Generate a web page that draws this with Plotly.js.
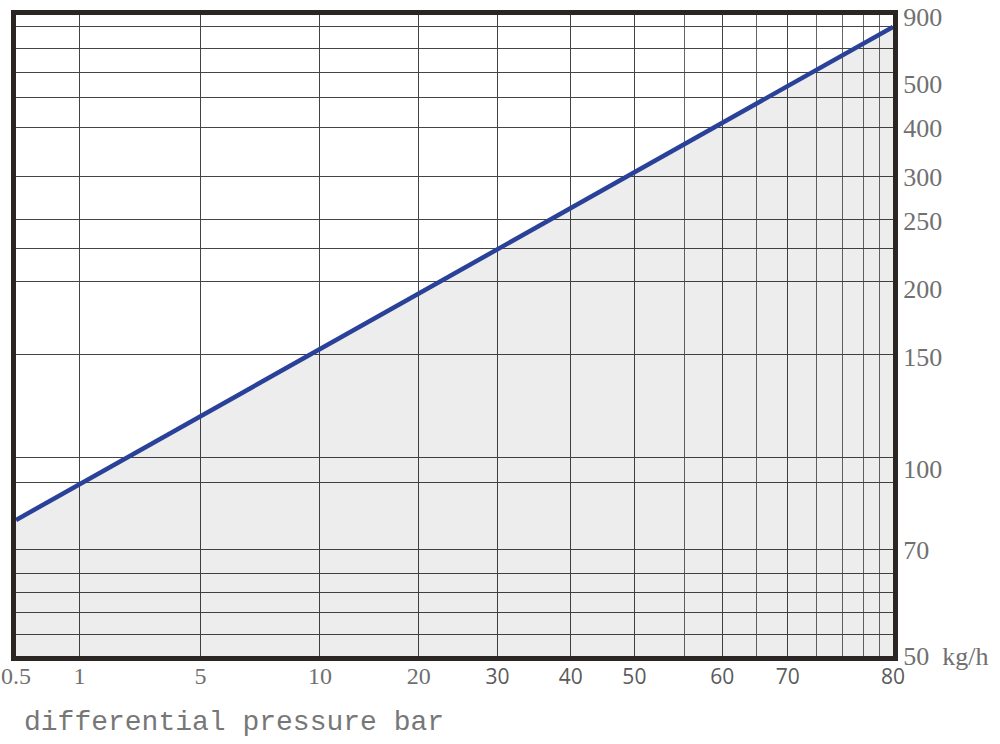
<!DOCTYPE html>
<html><head><meta charset="utf-8">
<script src="https://cdn.plot.ly/plotly-3.0.1.min.js"></script>
<style>html,body{margin:0;padding:0;background:#fff}#chart{width:1000px;height:744px}</style>
</head><body><div id="chart"></div>
<script>
// ---- data ----
const pressureTicks = [0.5, 1, 5, 10, 20, 30, 40, 50, 60, 70, 80];
const pressureLabels = ['0.5', '1', '5', '10', '20', '30', '40', '50', '60', '70', '80'];
const flowTicks = [50, 70, 100, 150, 200, 250, 300, 400, 500, 900];
const flowLabels = ['50\u00a0\u00a0kg/h', '70', '100', '150', '200', '250', '300', '400', '500', '900'];
const linePressure = [0.5, 80];
const lineFlow = [81, 840];

// ---- custom (non-uniform) scale of the printed chart: tick position fractions ----
const xTickPos = [0, 0.0724, 0.2103, 0.3466, 0.4592, 0.5491, 0.6326, 0.7051, 0.8052, 0.8800, 1];
const yTickPos = [0, 0.1658, 0.2922, 0.4669, 0.5729, 0.6794, 0.7477, 0.8233, 0.8919, 0.9973];
const xGridExtra = [0.7625, 0.8444, 0.9127, 0.9424, 0.9664, 0.9845];
const yGrid = [0.0343, 0.0686, 0.0988, 0.1284, 0.1669, 0.2704, 0.3094, 0.4707, 0.5839, 0.6360,
               0.6813, 0.7488, 0.8242, 0.8710, 0.9100, 0.9480, 0.9828];

function interp(v, vals, pos) {
  for (let i = 0; i < vals.length - 1; i++) {
    if (v <= vals[i + 1] || i === vals.length - 2) {
      const t = (v - vals[i]) / (vals[i + 1] - vals[i]);
      return pos[i] + t * (pos[i + 1] - pos[i]);
    }
  }
}
const mapX = v => interp(v, pressureTicks, xTickPos);
const mapY = v => interp(v, flowTicks, yTickPos);

const sansSpan = s => '<span style="font-family:\'Open Sans\';font-size:21px;fill:#5a5a5a">' + s + '</span>';
const xText = pressureLabels.map((s, i) => pressureTicks[i] >= 30 ? sansSpan(s) : s);

const trace = {
  type: 'scatter', mode: 'lines',
  x: linePressure.map(mapX),
  y: lineFlow.map(mapY),
  line: {color: '#2a419a', width: 4.5},
  fill: 'tozeroy',
  fillcolor: 'rgba(0,0,0,0.07)',
  hoverinfo: 'skip'
};

const layout = {
  width: 1000, height: 744,
  margin: {l: 16, r: 107, t: 15, b: 88},
  paper_bgcolor: '#fff', plot_bgcolor: '#fff',
  showlegend: false,
  xaxis: {
    range: [0, 1], fixedrange: true,
    tickmode: 'array', tickvals: xTickPos, ticktext: xText,
    ticks: '', showgrid: true, gridcolor: '#444', gridwidth: 1,
    zeroline: false,
    showline: true, linecolor: '#2b2523', linewidth: 5, mirror: true,
    tickfont: {family: 'Liberation Serif', size: 24, color: '#707070'},
    ticklabelstandoff: -6,
    minor: {tickmode: 'array', tickvals: xGridExtra, showgrid: true, gridcolor: '#666', gridwidth: 1, ticks: ''}
  },
  yaxis: {
    range: [0, 1], fixedrange: true, side: 'right',
    tickmode: 'array', tickvals: yTickPos, ticktext: flowLabels,
    ticks: '', showgrid: false, zeroline: false,
    showline: true, linecolor: '#2b2523', linewidth: 5, mirror: true,
    tickfont: {family: 'Liberation Serif', size: 26, color: '#707070'},
    ticklabelstandoff: 0,
    minor: {tickmode: 'array', tickvals: yGrid, showgrid: true, gridcolor: '#444', gridwidth: 1, ticks: ''}
  },
  annotations: [{
    text: 'differential pressure bar', xref: 'paper', yref: 'paper',
    x: 0.0068, y: -0.104, xanchor: 'left', yanchor: 'middle', showarrow: false,
    font: {family: 'Liberation Mono', size: 28, color: '#777'}
  }]
};

Plotly.newPlot('chart', [trace], layout, {displayModeBar: false, staticPlot: true});
</script>
</body></html>
